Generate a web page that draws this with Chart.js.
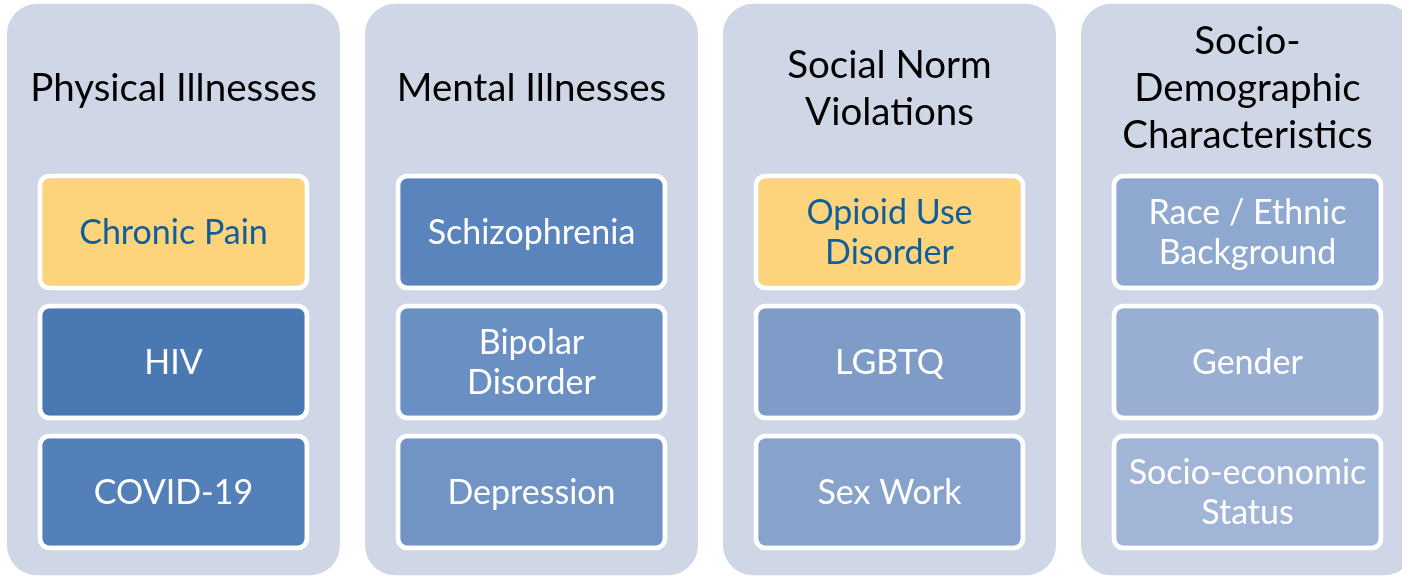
<!DOCTYPE html>
<html>
<head>
<meta charset="utf-8">
<script src="https://cdn.jsdelivr.net/npm/chart.js@4.4.1/dist/chart.umd.min.js"></script>
<style>
  html, body { margin: 0; padding: 0; background: #fff; overflow: hidden; }
  #stigma { display: block; }
</style>
</head>
<body>
<canvas id="stigma" width="1402" height="576"></canvas>
<script>
// column headings, split into the lines shown
const headers = [
  ['Physical Illnesses'],
  ['Mental Illnesses'],
  ['Social Norm', 'Violations'],
  ['Socio-', 'Demographic', 'Characteristics']
];

// the three boxes in each column, top to bottom
const row1 = [['Chronic Pain'], ['Schizophrenia'], ['Opioid Use', 'Disorder'], ['Race / Ethnic', 'Background']];
const row2 = [['HIV'], ['Bipolar', 'Disorder'], ['LGBTQ'], ['Gender']];
const row3 = [['COVID-19'], ['Depression'], ['Sex Work'], ['Socio-economic', 'Status']];

// which boxes are highlighted (yellow)
const highlight1 = [true, false, true, false];

// column positions (0..3) and row positions in row units
const cols = [0, 1, 2, 3];
const rowPos = [1, 2, 3];
const boxHalf = 0.45;
const panelRange = [-0.755, 3.64];
const headerPos = -0.1;

const panelColor = '#cfd7e7';
const row1Colors = ['#fdd47c', '#5a84bc', '#fdd47c', '#8fa8cf'];
const row2Colors = ['#4a78b2', '#6a8fc2', '#7f9bc8', '#98afd3'];
const row3Colors = ['#5380b8', '#7294c4', '#87a2cb', '#a1b5d7'];

function boxData(r) {
  return cols.map(c => ({ x: c, y: [rowPos[r] - boxHalf, rowPos[r] + boxHalf] }));
}

const boxStyle = {
  barThickness: 272,
  borderColor: '#ffffff',
  borderWidth: 5,
  borderRadius: 12,
  borderSkipped: false,
  grouped: false,
  inflateAmount: 0
};

const rowTexts = [row1, row2, row3];

const labelPlugin = {
  id: 'boxLabels',
  afterDatasetsDraw(chart) {
    const ctx = chart.ctx;
    const xs = chart.scales.x, ys = chart.scales.y;
    ctx.save();
    ctx.textAlign = 'center';
    ctx.textBaseline = 'middle';

    // headings
    ctx.font = '38.5px Lato';
    ctx.fillStyle = '#000';
    const hl = 47;
    headers.forEach((lines, i) => {
      const cx = xs.getPixelForValue(cols[i]);
      const cy = ys.getPixelForValue(headerPos);
      lines.forEach((t, j) => {
        ctx.fillText(t, cx, cy + (j - (lines.length - 1) / 2) * hl);
      });
    });

    // box texts
    ctx.font = '34px Lato';
    const bl = 40;
    for (let r = 0; r < 3; r++) {
      const meta = chart.getDatasetMeta(r);
      meta.data.forEach((el, i) => {
        const p = el.getProps(['x', 'y', 'base'], true);
        const cy = (p.y + p.base) / 2;
        const lines = rowTexts[r][i];
        ctx.fillStyle = (r === 0 && highlight1[i]) ? '#0f5e9c' : '#ffffff';
        lines.forEach((t, j) => {
          ctx.fillText(t, p.x, cy + 1 + (j - (lines.length - 1) / 2) * bl);
        });
      });
    }
    ctx.restore();
  }
};

// Chart.js draws the first dataset on top, so the panels go last
const data = {
  datasets: [
    Object.assign({ label: 'row 1', data: boxData(0), backgroundColor: row1Colors }, boxStyle),
    Object.assign({ label: 'row 2', data: boxData(1), backgroundColor: row2Colors }, boxStyle),
    Object.assign({ label: 'row 3', data: boxData(2), backgroundColor: row3Colors }, boxStyle),
    {
      label: 'panels',
      data: cols.map(c => ({ x: c, y: panelRange })),
      backgroundColor: panelColor,
      barThickness: 333,
      borderRadius: 30,
      borderWidth: 0,
      borderSkipped: false,
      grouped: false,
      inflateAmount: 0
    }
  ]
};

const config = {
  type: 'bar',
  data: data,
  options: {
    responsive: false,
    animation: false,
    events: [],
    layout: { padding: 0 },
    plugins: {
      legend: { display: false },
      tooltip: { enabled: false }
    },
    scales: {
      x: { type: 'linear', offset: false, min: -0.4846, max: 3.4316, display: false },
      y: { type: 'linear', reverse: true, min: -0.7846, max: 3.646, display: false }
    }
  },
  plugins: [labelPlugin]
};

const stigmaChart = new Chart(document.getElementById('stigma'), config);
</script>
</body>
</html>
